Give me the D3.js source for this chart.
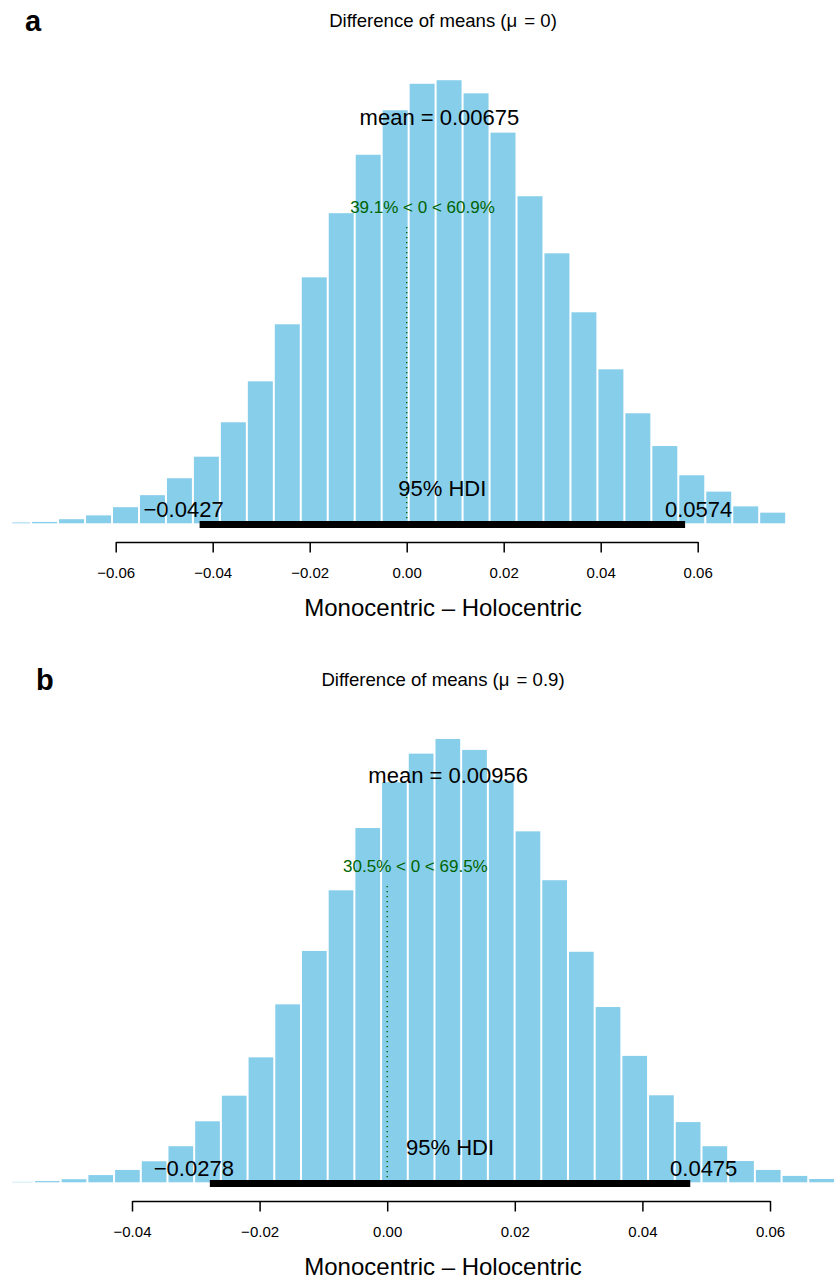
<!DOCTYPE html>
<html>
<head>
<meta charset="utf-8">
<script src="https://cdn.jsdelivr.net/npm/d3@7"></script>
<style>
  body { margin: 0; background: #fff; }
  svg text { font-family: "Liberation Sans", Arial, Helvetica, sans-serif; }
</style>
</head>
<body>
<div></div>
<script>
var width = 835;
var height = 1279;

// panel a : mu = 0
var densA = [0.03, 0.05, 0.15, 0.29, 0.59, 1.03, 1.65, 2.44, 3.70, 5.20, 7.29, 9.01, 11.36, 13.50, 15.13,
	16.10, 16.23, 15.75, 14.31, 11.98, 9.89, 7.73, 5.64, 4.03, 2.83, 1.76, 1.16, 0.62, 0.39];
var binStartA = -0.0830;
var binWidthA = 0.00556;
var ticksA = [-0.06, -0.04, -0.02, 0.00, 0.02, 0.04, 0.06];
var hdiA = [-0.0427, 0.0574];
var meanA = 0.00675;
var pctBelowA = 39.1;

// panel b : mu = 0.9
var densB = [0.02, 0.06, 0.15, 0.35, 0.60, 1.02, 1.75, 2.96, 4.20, 6.06, 8.63, 11.22, 14.16, 17.18, 19.40,
	20.79, 21.50, 20.97, 19.50, 17.02, 14.65, 11.18, 8.50, 6.13, 4.22, 2.92, 1.75, 1.03, 0.60, 0.31, 0.16];
var binStartB = -0.05955;
var binWidthB = 0.004185;
var ticksB = [-0.04, -0.02, 0.00, 0.02, 0.04, 0.06];
var hdiB = [-0.0278, 0.0475];
var meanB = 0.00956;
var pctBelowB = 30.5;

var xLabel = "Monocentric \u2013 Holocentric";

var svg = d3.select("div")
	.append("svg")
	.attr("width", width)
	.attr("height", height);

svg.append("defs").append("clipPath")
	.attr("id", "plotclip")
	.append("rect")
	.attr("x", 12.3).attr("y", 0)
	.attr("width", width - 12.3).attr("height", height);

var panels = [
	{letter: "a", letterX: 25, mu: "0", dens: densA, start: binStartA, bw: binWidthA, ticks: ticksA,
	 hdi: hdiA, mean: meanA, pct: pctBelowA, base: 523.3, ymax: 17,
	 x: d3.scaleLinear().domain([-0.06, 0.06]).range([115.7, 697.7]), ytop: 523.3 - 17 * 27.3},
	{letter: "b", letterX: 36, mu: "0.9", dens: densB, start: binStartB, bw: binWidthB, ticks: ticksB,
	 hdi: hdiB, mean: meanB, pct: pctBelowB, base: 1182.3, ymax: 22,
	 x: d3.scaleLinear().domain([-0.04, 0.06]).range([132, 770]), ytop: 1182.3 - 22 * 20.62}
];

panels.forEach(p => {
	var x = p.x;
	var y = d3.scaleLinear().domain([0, p.ymax]).range([p.base, p.ytop]);
	var maxD = d3.max(p.dens);
	var g = svg.append("g");

	// histogram bars (white gap between bins)
	g.append("g")
		.attr("clip-path", "url(#plotclip)")
		.selectAll("rect")
		.data(p.dens)
		.enter()
		.append("rect")
		.attr("x", (d, i) => x(p.start + i * p.bw) + 1)
		.attr("width", (d, i) => x(p.start + (i + 1) * p.bw) - x(p.start + i * p.bw) - 2)
		.attr("y", d => y(d))
		.attr("height", d => y(0) - y(d))
		.attr("fill", "#87CEEB");

	// comparison value line + text
	var cvHt = 0.7 * maxD;
	g.append("line")
		.attr("x1", x(0)).attr("x2", x(0))
		.attr("y1", y(0)).attr("y2", y(0.96 * cvHt))
		.attr("stroke", "darkgreen")
		.attr("stroke-width", 1.4)
		.attr("stroke-dasharray", "1.4,3.6");

	var cvText = g.append("text")
		.text(p.pct.toFixed(1) + "% < 0 < " + (100 - p.pct).toFixed(1) + "%")
		.attr("font-size", 17)
		.attr("fill", "darkgreen")
		.attr("y", y(cvHt));
	cvText.attr("x", x(0) - (p.pct / 100) * cvText.node().getComputedTextLength());

	// mean
	g.append("text")
		.text("mean = " + p.mean)
		.attr("font-size", 22)
		.attr("text-anchor", "middle")
		.attr("x", x(p.mean))
		.attr("y", y(0.9 * maxD));

	// HDI bar and labels
	g.append("line")
		.attr("x1", x(p.hdi[0])).attr("x2", x(p.hdi[1]))
		.attr("y1", p.base + 1.3).attr("y2", p.base + 1.3)
		.attr("stroke", "#000")
		.attr("stroke-width", 7);

	g.append("text")
		.text("95% HDI")
		.attr("font-size", 22)
		.attr("text-anchor", "middle")
		.attr("x", x(d3.mean(p.hdi)))
		.attr("y", p.base - 27);

	p.hdi.forEach((h, i) => {
		var t = g.append("text")
			.text(d3.format(".3~r")(h).replace("-", "\u2212"))
			.attr("font-size", 22)
			.attr("y", p.base - 6);
		var adj = i === 0 ? 0.7 : 0.3;
		t.attr("x", x(h) - adj * t.node().getComputedTextLength());
	});

	// axis
	var axisY = p.base + 18.7;
	var axis = g.append("g")
		.attr("transform", "translate(0," + axisY + ")")
		.call(d3.axisBottom(x).tickValues(p.ticks).tickFormat(d3.format(".2f")).tickSize(10.5).tickSizeOuter(0));
	axis.select(".domain").attr("stroke-width", 1.5);
	axis.selectAll(".tick line").attr("stroke-width", 1.5);
	axis.selectAll(".tick text")
		.attr("font-size", 15)
		.attr("font-family", null)
		.attr("y", 35.5)
		.attr("dy", 0);

	g.append("text")
		.text(xLabel)
		.attr("font-size", 24)
		.attr("text-anchor", "middle")
		.attr("x", 443)
		.attr("y", axisY + 73.5);

	// title
	var title = g.append("text")
		.attr("font-size", 18.6)
		.attr("text-anchor", "middle")
		.attr("x", 443)
		.attr("y", p.base - 496.5);
	title.append("tspan").text("Difference of means (\u03bc");
	title.append("tspan").attr("dx", 7).text("= " + p.mu + ")");

	g.append("text")
		.text(p.letter)
		.attr("font-size", 29)
		.attr("font-weight", "bold")
		.attr("x", p.letterX)
		.attr("y", p.base - 492);
});
</script>
</body>
</html>
